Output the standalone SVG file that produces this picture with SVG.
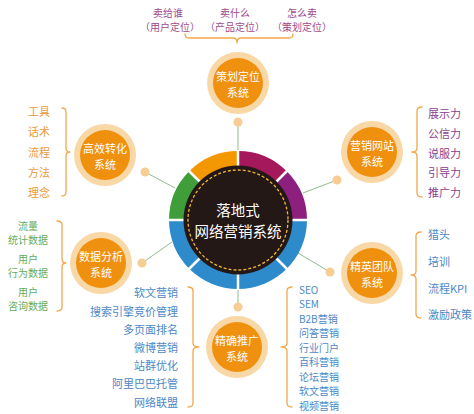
<svg xmlns="http://www.w3.org/2000/svg" width="474" height="414" viewBox="0 0 474 414">
<defs>
<style>
text{font-family:"Noto Sans CJK SC","Noto Sans",sans-serif;}
.brace{fill:none;stroke:#F2A84C;stroke-width:1.3;stroke-linecap:round;stroke-linejoin:round;}
.conn{stroke:#8DBD8B;stroke-width:1;fill:none;}
.dot{fill:#F7CD95;}
.halo{fill:#F9D8A8;}
.core{fill:#F0900F;}
.nt{fill:#FFFFFF;font-size:11px;text-anchor:middle;dominant-baseline:central;}
.ct{fill:#FFFFFF;font-size:14.5px;text-anchor:middle;dominant-baseline:central;}
.t{font-size:11px;dominant-baseline:central;}
.s{font-size:10px;}
.top{fill:#A04B8C;font-size:10px;text-anchor:middle;dominant-baseline:central;}
.or{fill:#E99A3C;text-anchor:middle;}
.gr{fill:#64AC5C;text-anchor:middle;}
.pu{fill:#8A3E8C;}
.bl{fill:#4C88C6;}
.gap{stroke:#FFFFFF;stroke-width:2.5;}
</style>
</defs>
<rect width="474" height="414" fill="#FFFFFF"/>

<g id="connectors">
<line class="conn" x1="238" y1="151" x2="238" y2="122"/>
<line class="conn" x1="175" y1="188" x2="145" y2="172"/>
<line class="conn" x1="172" y1="242" x2="142" y2="263"/>
<line class="conn" x1="303" y1="193" x2="337" y2="180"/>
<line class="conn" x1="298" y1="253" x2="330" y2="272"/>
<line class="conn" x1="238" y1="289" x2="238" y2="307"/>
<circle class="dot" cx="238" cy="122" r="4.5"/>
<circle class="dot" cx="145" cy="172" r="4.5"/>
<circle class="dot" cx="142" cy="263" r="4.5"/>
<circle class="dot" cx="337" cy="180" r="4.5"/>
<circle class="dot" cx="330" cy="272" r="4.5"/>
<circle class="dot" cx="238" cy="307" r="4.5"/>
</g>

<g id="center">
<path d="M307 220 A69 69 0 0 0 286.79 171.21 L275.48 182.52 A53 53 0 0 1 291 220 Z" fill="#8D1F7E"/>
<path d="M286.79 171.21 A69 69 0 0 0 238 151 L238 167 A53 53 0 0 1 275.48 182.52 Z" fill="#A6185C"/>
<path d="M238 151 A69 69 0 0 0 189.21 171.21 L200.52 182.52 A53 53 0 0 1 238 167 Z" fill="#F39800"/>
<path d="M189.21 171.21 A69 69 0 0 0 169 220 L185 220 A53 53 0 0 1 200.52 182.52 Z" fill="#3F9E3A"/>
<path d="M169 220 A69 69 0 0 0 307 220 L291 220 A53 53 0 0 1 185 220 Z" fill="#2E8BCB"/>
<line class="gap" x1="168" y1="220" x2="308" y2="220"/>
<line class="gap" x1="238" y1="150" x2="238" y2="290"/>
<line class="gap" x1="188.5" y1="170.5" x2="287.5" y2="269.5"/>
<line class="gap" x1="287.5" y1="170.5" x2="188.5" y2="269.5"/>
<circle cx="238" cy="220" r="54.5" fill="#231815"/>
<circle cx="238" cy="220" r="50" fill="none" stroke="#F2B632" stroke-width="1.3" stroke-dasharray="3 2"/>
<text class="ct" x="238" y="209.5">落地式</text>
<text class="ct" x="238" y="230.5">网络营销系统</text>
</g>

<g id="node-cehua">
<circle class="halo" cx="238" cy="83" r="31"/>
<circle class="core" cx="238" cy="83" r="25"/>
<text class="nt" x="238" y="76">策划定位</text>
<text class="nt" x="238" y="92">系统</text>
</g>

<g id="node-gaoxiao">
<circle class="halo" cx="105" cy="155" r="31"/>
<circle class="core" cx="105" cy="155" r="25"/>
<text class="nt" x="105" y="148">高效转化</text>
<text class="nt" x="105" y="164">系统</text>
</g>

<g id="node-shuju">
<circle class="halo" cx="101" cy="263" r="31"/>
<circle class="core" cx="101" cy="263" r="25"/>
<text class="nt" x="101" y="256">数据分析</text>
<text class="nt" x="101" y="272">系统</text>
</g>

<g id="node-yingxiao">
<circle class="halo" cx="372" cy="152" r="31"/>
<circle class="core" cx="372" cy="152" r="25"/>
<text class="nt" x="372" y="145">营销网站</text>
<text class="nt" x="372" y="161">系统</text>
</g>

<g id="node-jingying">
<circle class="halo" cx="372" cy="273" r="31"/>
<circle class="core" cx="372" cy="273" r="25"/>
<text class="nt" x="372" y="266">精英团队</text>
<text class="nt" x="372" y="282">系统</text>
</g>

<g id="node-tuiguang">
<circle class="halo" cx="237" cy="347" r="31"/>
<circle class="core" cx="237" cy="347" r="25"/>
<text class="nt" x="237" y="340">精确推广</text>
<text class="nt" x="237" y="356">系统</text>
</g>

<g id="list-top">
<text class="top" x="168" y="12">卖给谁</text>
<text class="top" x="170" y="26.5">（用户定位）</text>
<text class="top" x="235" y="12">卖什么</text>
<text class="top" x="235" y="26.5">（产品定位）</text>
<text class="top" x="302" y="12">怎么卖</text>
<text class="top" x="302" y="26.5">（策划定位）</text>
<path class="brace" d="M185 34 Q185 38 189 38 L233 38 Q237 38 237 43 Q237 38 241 38 L289 38 Q293 38 293 34"/>
</g>

<g id="list-gaoxiao">
<text class="t or" x="39" y="111">工具</text>
<text class="t or" x="39" y="131">话术</text>
<text class="t or" x="39" y="152">流程</text>
<text class="t or" x="39" y="172">方法</text>
<text class="t or" x="39" y="192">理念</text>
<path class="brace" d="M62 108 Q66 108 66 112 L66 148 Q66 152 70 152 Q66 152 66 156 L66 192 Q66 196 62 196"/>
</g>

<g id="list-shuju">
<text class="t s gr" x="28" y="225">流量</text>
<text class="t s gr" x="28" y="239.5">统计数据</text>
<text class="t s gr" x="28" y="258">用户</text>
<text class="t s gr" x="28" y="272.5">行为数据</text>
<text class="t s gr" x="28" y="291">用户</text>
<text class="t s gr" x="28" y="305.5">咨询数据</text>
<path class="brace" d="M57 221 Q62 221 62 225 L62 259 Q62 263 66 263 Q62 263 62 267 L62 307 Q62 311 57 311"/>
</g>

<g id="list-yingxiao">
<text class="t pu" x="428" y="113">展示力</text>
<text class="t pu" x="428" y="133">公信力</text>
<text class="t pu" x="428" y="153">说服力</text>
<text class="t pu" x="428" y="172">引导力</text>
<text class="t pu" x="428" y="192">推广力</text>
<path class="brace" d="M422 107 Q417 107 417 111 L417 148 Q417 152 412 152 Q417 152 417 156 L417 193 Q417 197 422 197"/>
</g>

<g id="list-jingying">
<text class="t bl" x="428" y="234">猎头</text>
<text class="t bl" x="428" y="261">培训</text>
<text class="t bl" x="428" y="288">流程KPI</text>
<text class="t bl" x="428" y="314">激励政策</text>
<path class="brace" d="M421 232 Q416 232 416 236 L416 271 Q416 275 411 275 Q416 275 416 279 L416 314 Q416 318 421 318"/>
</g>

<g id="list-tuiguang-left">
<text class="t bl" x="178" y="292" text-anchor="end">软文营销</text>
<text class="t bl" x="178" y="311" text-anchor="end">搜索引擎竞价管理</text>
<text class="t bl" x="178" y="329" text-anchor="end">多页面排名</text>
<text class="t bl" x="178" y="347" text-anchor="end">微博营销</text>
<text class="t bl" x="178" y="365" text-anchor="end">站群优化</text>
<text class="t bl" x="178" y="383" text-anchor="end">阿里巴巴托管</text>
<text class="t bl" x="178" y="402" text-anchor="end">网络联盟</text>
<path class="brace" d="M188 287 Q193 287 193 291 L193 343 Q193 347 199 347 Q193 347 193 351 L193 403 Q193 407 188 407"/>
</g>

<g id="list-tuiguang-right">
<text class="t s bl" x="299" y="289">SEO</text>
<text class="t s bl" x="299" y="303.5">SEM</text>
<text class="t s bl" x="299" y="318">B2B营销</text>
<text class="t s bl" x="299" y="332.5">问答营销</text>
<text class="t s bl" x="299" y="347">行业门户</text>
<text class="t s bl" x="299" y="361.5">百科营销</text>
<text class="t s bl" x="299" y="376">论坛营销</text>
<text class="t s bl" x="299" y="390.5">软文营销</text>
<text class="t s bl" x="299" y="405">视频营销</text>
<path class="brace" d="M292 287 Q287 287 287 291 L287 343 Q287 347 281 347 Q287 347 287 351 L287 403 Q287 407 292 407"/>
</g>
</svg>
